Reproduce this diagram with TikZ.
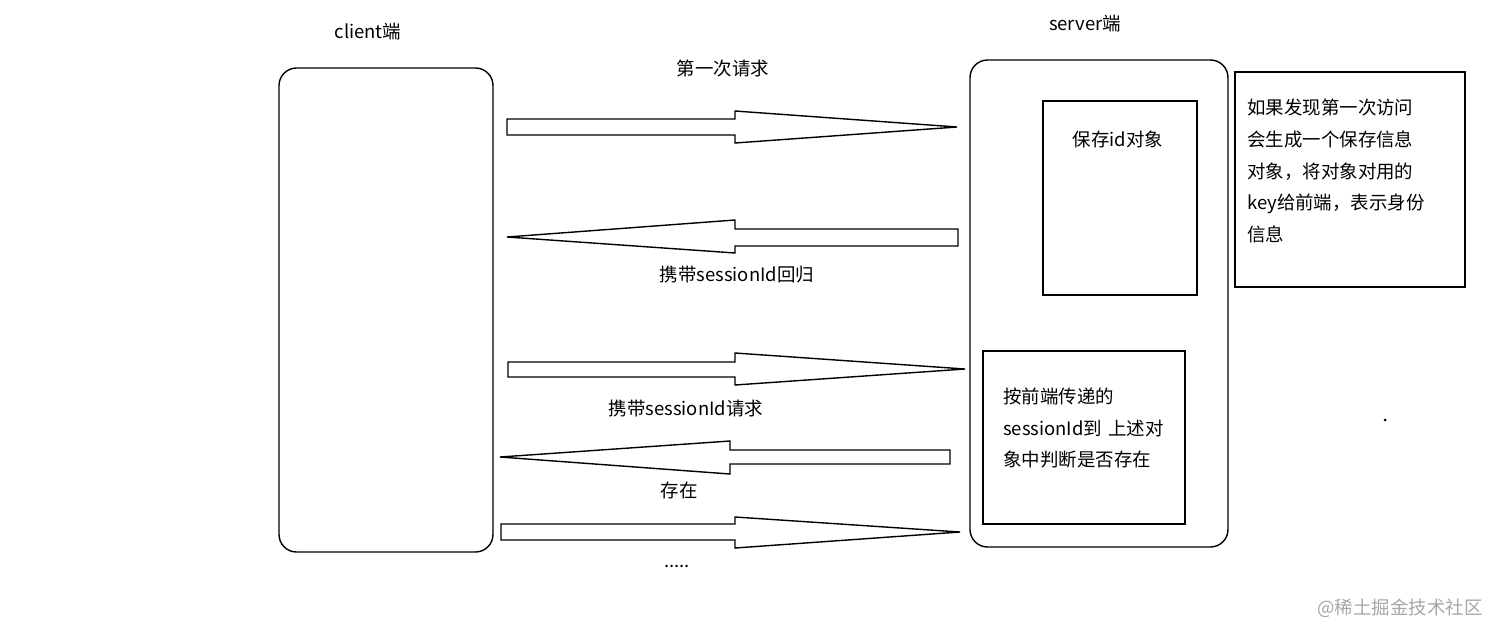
\documentclass[tikz,border=0pt]{standalone}
\usepackage{fontspec}
\setmainfont{Noto Sans CJK SC}
\usetikzlibrary{positioning}
\begin{document}
\begin{tikzpicture}[x=0.02cm,y=-0.02cm]
        \tikzstyle{box}=[draw=black, thick]
        \tikzstyle{blockarrow}=[draw=black, thick, fill=white]
        \tikzstyle{lbl}=[font=\fontsize{10.5}{12}\selectfont, inner sep=0pt]
        \useasboundingbox (0,0) rectangle (1512,640);
        % the two sides
        \draw[box, rounded corners=10] (279,68) rectangle (493,552);
        \draw[box, rounded corners=10] (970,60) rectangle (1228,547);
        \node[lbl] (client) at (368,32) {client端};
        \node[lbl] (server) at (1085,24) {server端};
        % inner boxes
        \draw[box] (1043,101) rectangle (1197,295);
        \node[lbl] (save) at (1118,139) {保存id对象};
        \draw[box] (983,351) rectangle (1185,524);
        \node[lbl, anchor=west, align=left, text width=3.6cm] (check) at (1003,428)
          {按前端传递的\\[6pt]sessionId到 上述对\\[6pt]象中判断是否存在};
        \draw[box] (1235,72) rectangle (1465,287);
        \node[lbl, anchor=north west, align=left, text width=4.4cm] (note) at (1247,99)
          {如果发现第一次访问\\[6pt]会生成一个保存信息\\[6pt]对象，将对象对用的\\[6pt]key给前端，表示身份\\[6pt]信息};
        % hollow arrows
        \draw[blockarrow] (507,119) -- (735,119) -- (735,111) -- (957,127) -- (735,143) -- (735,135) -- (507,135) -- cycle;
        \draw[blockarrow] (958,229) -- (735,229) -- (735,220) -- (507,237) -- (735,253) -- (735,246) -- (958,246) -- cycle;
        \draw[blockarrow] (508,362) -- (735,362) -- (735,353) -- (965,369) -- (735,385) -- (735,377) -- (508,377) -- cycle;
        \draw[blockarrow] (950,450) -- (730,450) -- (730,441) -- (500,457) -- (730,474) -- (730,464) -- (950,464) -- cycle;
        \draw[blockarrow] (501,524) -- (735,524) -- (735,517) -- (960,532) -- (735,548) -- (735,540) -- (501,540) -- cycle;
        % labels
        \node[lbl] (first) at (723,68) {第一次请求};
        \node[lbl] (back) at (737,275) {携带sessionId回归};
        \node[lbl] (again) at (686,408) {携带sessionId请求};
        \node[lbl] (exists) at (679,490) {存在};
        \node[lbl] (more) at (677,566) {.....};
        \fill (1385,420) circle (1.5);
        \node[lbl, text=black!35] (mark) at (1400,608) {@稀土掘金技术社区};
\end{tikzpicture}
\end{document}
